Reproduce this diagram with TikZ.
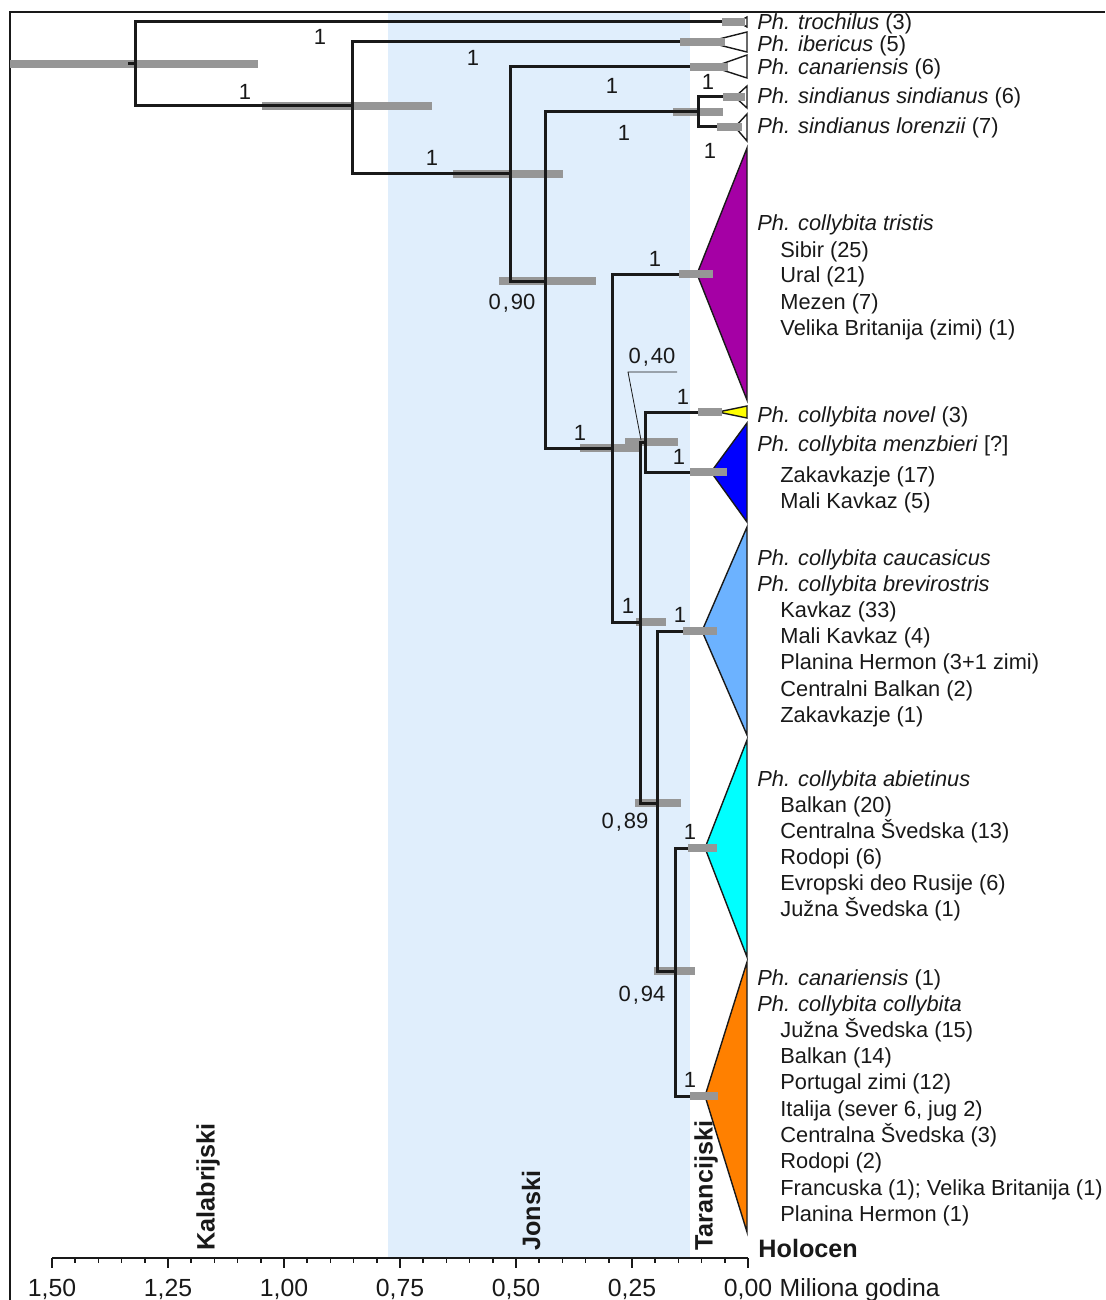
\documentclass[tikz,border=0pt]{standalone}
\usepackage{fontspec}
\setmainfont{Liberation Sans}
\definecolor{band}{RGB}{224,238,252}
\definecolor{hpdgray}{RGB}{150,150,150}
\definecolor{cpurple}{RGB}{165,0,165}
\definecolor{cblue}{RGB}{0,0,255}
\definecolor{clight}{RGB}{108,178,255}
\definecolor{ccyan}{RGB}{0,255,255}
\definecolor{corange}{RGB}{255,128,0}
\definecolor{cyellow}{RGB}{255,255,0}
\definecolor{treeblack}{RGB}{25,25,25}
\begin{document}
\begin{tikzpicture}[x=0.5pt,y=-0.5pt,
  branch/.style={draw=treeblack,line width=1.5pt},
  hpd/.style={draw=hpdgray,line width=4pt},
  clade/.style={draw=treeblack,line width=0.7pt,line join=miter},
  framel/.style={draw=treeblack,line width=1pt},
  axisl/.style={draw=treeblack,line width=1pt},
  sp/.style={anchor=base west,inner sep=0pt,font=\fontsize{10.9}{13}\selectfont,text=treeblack},
  lab/.style={inner sep=0pt,font=\fontsize{11}{13}\selectfont,text=treeblack},
  stage/.style={inner sep=0pt,font=\fontsize{12.6}{15}\selectfont\bfseries,text=treeblack},
  ticklab/.style={anchor=base,inner sep=0pt,font=\fontsize{12.4}{15}\selectfont,text=treeblack}]
\useasboundingbox (0,0) rectangle (1105,1300);
% geological band
\fill[band] (388,13) rectangle (690,1258);
\draw[framel] (10,1300) -- (10,12) -- (1105,12);

% tree coordinates
\coordinate (R0) at (128,64);
\coordinate (R) at (135,64);
\coordinate (tro) at (738,22);
\coordinate (N1) at (352,106);
\coordinate (ibe) at (707,42);
\coordinate (N2) at (510,174);
\coordinate (can) at (713,67);
\coordinate (N3) at (545,281);
\coordinate (S) at (698,112);
\coordinate (sin) at (735,97);
\coordinate (lor) at (735,127);
\coordinate (N4) at (612,448);
\coordinate (tri) at (697,274);
\coordinate (N5) at (640,622);
\coordinate (N6) at (645,442);
\coordinate (nov) at (718,412);
\coordinate (men) at (711,472);
\coordinate (N7) at (657,803);
\coordinate (cau) at (702,631);
\coordinate (N8) at (675,971);
\coordinate (abi) at (705,848);
\coordinate (col) at (705,1096);

% internal node HPD bars
\draw[hpd] (10,64) -- (258,64);
\draw[hpd] (262,106) -- (432,106);
\draw[hpd] (453,174) -- (563,174);
\draw[hpd] (499,281) -- (596,281);
\draw[hpd] (673,112) -- (723,112);
\draw[hpd] (580,448) -- (640,448);
\draw[hpd] (636,622) -- (666,622);
\draw[hpd] (625,442) -- (678,442);
\draw[hpd] (635,803) -- (681,803);
\draw[hpd] (654,971) -- (695,971);

% branches
\draw[branch] (R0) -- (R);
\draw[branch] (R) |- (tro);
\draw[branch] (R) |- (N1);
\draw[branch] (N1) |- (ibe);
\draw[branch] (N1) |- (N2);
\draw[branch] (N2) |- (can);
\draw[branch] (N2) |- (N3);
\draw[branch] (N3) |- (S);
\draw[branch] (S) |- (sin);
\draw[branch] (S) |- (lor);
\draw[branch] (N3) |- (N4);
\draw[branch] (N4) |- (tri);
\draw[branch] (N4) |- (N5);
\draw[branch] (N5) |- (N6);
\draw[branch] (N6) |- (nov);
\draw[branch] (N6) |- (men);
\draw[branch] (N5) |- (N7);
\draw[branch] (N7) |- (cau);
\draw[branch] (N7) |- (N8);
\draw[branch] (N8) |- (abi);
\draw[branch] (N8) |- (col);

% collapsed clades
\filldraw[clade,fill=white] (tro) -- (747,17) -- (747,27) -- cycle;
\filldraw[clade,fill=white] (ibe) -- (747,32) -- (747,52) -- cycle;
\filldraw[clade,fill=white] (can) -- (747,55) -- (747,78) -- cycle;
\filldraw[clade,fill=white] (sin) -- (747,86) -- (747,108) -- cycle;
\filldraw[clade,fill=white] (lor) -- (747,114) -- (747,141) -- cycle;
\filldraw[clade,fill=cpurple] (tri) -- (747,148) -- (747,400) -- cycle;
\filldraw[clade,fill=cyellow] (nov) -- (747,406) -- (747,418) -- cycle;
\filldraw[clade,fill=cblue] (men) -- (747,423) -- (747,522) -- cycle;
\filldraw[clade,fill=clight] (cau) -- (747,527) -- (747,735) -- cycle;
\filldraw[clade,fill=ccyan] (abi) -- (747,740) -- (747,957) -- cycle;
\filldraw[clade,fill=corange] (col) -- (747,962) -- (747,1232) -- cycle;

% clade crown HPD bars
\draw[hpd] (722,22) -- (745,22);
\draw[hpd] (680,42) -- (725,42);
\draw[hpd] (690,67) -- (728,67);
\draw[hpd] (723,97) -- (745,97);
\draw[hpd] (717,127) -- (742,127);
\draw[hpd] (679,274) -- (713,274);
\draw[hpd] (698,412) -- (722,412);
\draw[hpd] (690,472) -- (727,472);
\draw[hpd] (683,631) -- (717,631);
\draw[hpd] (688,848) -- (717,848);
\draw[hpd] (690,1096) -- (718,1096);

% posterior labels
\node[lab] (p1) at (320,37) {1};
\node[lab] (p2) at (473,58) {1};
\node[lab] (p3) at (245,92) {1};
\node[lab] (p4) at (612,86) {1};
\node[lab] (p5) at (708,82) {1};
\node[lab] (p6) at (432,158) {1};
\node[lab] (p7) at (624,133) {1};
\node[lab] (p8) at (710,151) {1};
\node[lab] (p9) at (655,259) {1};
\node[lab] (p10) at (683,397) {1};
\node[lab] (p11) at (580,433) {1};
\node[lab] (p12) at (679,457) {1};
\node[lab] (p13) at (628,606) {1};
\node[lab] (p14) at (680,615) {1};
\node[lab] (p15) at (690,832) {1};
\node[lab] (p16) at (690,1080) {1};
\node[lab] (p90) at (512,303) {0\kern1pt,\kern1pt90};
\node[lab] (p89) at (625,822) {0\kern1pt,\kern1pt89};
\node[lab] (p94) at (642,995) {0\kern1pt,\kern1pt94};
\node[lab] (p40) at (652,357) {0\kern1pt,\kern1pt40};
\coordinate (ld1) at (677,372);
\coordinate (ld2) at (628,372);
\coordinate (ld3) at (641,440);
\draw[treeblack,line width=0.4pt] (ld1) -- (ld2) -- (ld3);

% taxa texts
\node[sp] (tx1) at (757,30) {\textit{Ph. trochilus} (3)};
\node[sp] (tx2) at (757,52) {\textit{Ph. ibericus} (5)};
\node[sp] (tx3) at (757,75) {\textit{Ph. canariensis} (6)};
\node[sp] (tx4) at (757,104) {\textit{Ph. sindianus sindianus} (6)};
\node[sp] (tx5) at (757,134) {\textit{Ph. sindianus lorenzii} (7)};
\node[sp] (tx6) at (757,231) {\textit{Ph. collybita tristis}};
\node[sp] (tx7) at (780,257) {Sibir (25)};
\node[sp] (tx8) at (780,283) {Ural (21)};
\node[sp] (tx9) at (780,309) {Mezen (7)};
\node[sp] (tx10) at (780,335) {Velika Britanija (zimi) (1)};
\node[sp] (tx11) at (757,422) {\textit{Ph. collybita novel} (3)};
\node[sp] (tx12) at (757,451) {\textit{Ph. collybita menzbieri} [?]};
\node[sp] (tx13) at (780,482) {Zakavkazje (17)};
\node[sp] (tx14) at (780,508) {Mali Kavkaz (5)};
\node[sp] (tx15) at (757,565) {\textit{Ph. collybita caucasicus}};
\node[sp] (tx16) at (757,591) {\textit{Ph. collybita brevirostris}};
\node[sp] (tx17) at (780,617) {Kavkaz (33)};
\node[sp] (tx18) at (780,643) {Mali Kavkaz (4)};
\node[sp] (tx19) at (780,669) {Planina Hermon (3+1 zimi)};
\node[sp] (tx20) at (780,696) {Centralni Balkan (2)};
\node[sp] (tx21) at (780,722) {Zakavkazje (1)};
\node[sp] (tx22) at (757,786) {\textit{Ph. collybita abietinus}};
\node[sp] (tx23) at (780,812) {Balkan (20)};
\node[sp] (tx24) at (780,838) {Centralna Švedska (13)};
\node[sp] (tx25) at (780,864) {Rodopi (6)};
\node[sp] (tx26) at (780,890) {Evropski deo Rusije (6)};
\node[sp] (tx27) at (780,916) {Južna Švedska (1)};
\node[sp] (tx28) at (757,985) {\textit{Ph. canariensis} (1)};
\node[sp] (tx29) at (757,1011) {\textit{Ph. collybita collybita}};
\node[sp] (tx30) at (780,1037) {Južna Švedska (15)};
\node[sp] (tx31) at (780,1063) {Balkan (14)};
\node[sp] (tx32) at (780,1089) {Portugal zimi (12)};
\node[sp] (tx33) at (780,1116) {Italija (sever 6, jug 2)};
\node[sp] (tx34) at (780,1142) {Centralna Švedska (3)};
\node[sp] (tx35) at (780,1168) {Rodopi (2)};
\node[sp] (tx36) at (780,1195) {Francuska (1); Velika Britanija (1)};
\node[sp] (tx37) at (780,1221) {Planina Hermon (1)};

% stages
\node[stage,rotate=90,anchor=west] (kal) at (208,1251) {Kalabrijski};
\node[stage,rotate=90,anchor=west] (jon) at (531,1251) {Jonski};
\node[stage,rotate=90,anchor=west] (tar) at (706,1251) {Tarancijski};
\node[stage,anchor=base west] (hol) at (758,1257) {Holocen};

% axis
\coordinate (axL) at (52,1258);
\coordinate (axR) at (748,1258);
\draw[axisl] (axL) -- (axR);
\foreach \i in {0,...,30} {\draw[axisl,line width=0.8pt] ({748-23.2*\i},1258) -- ++(0,5);}
\foreach \i in {0,...,6} {\draw[axisl] ({748-116*\i},1258) -- ++(0,10);}
\node[ticklab] (t150) at (52,1296) {1,50};
\node[ticklab] (t125) at (168,1296) {1,25};
\node[ticklab] (t100) at (284,1296) {1,00};
\node[ticklab] (t075) at (400,1296) {0,75};
\node[ticklab] (t050) at (516,1296) {0,50};
\node[ticklab] (t025) at (632,1296) {0,25};
\node[ticklab] (t000) at (748,1296) {0,00};
\node[ticklab,anchor=base west] (unit) at ([xshift=3.4pt]t000.base east) {Miliona godina};
\end{tikzpicture}
\end{document}
